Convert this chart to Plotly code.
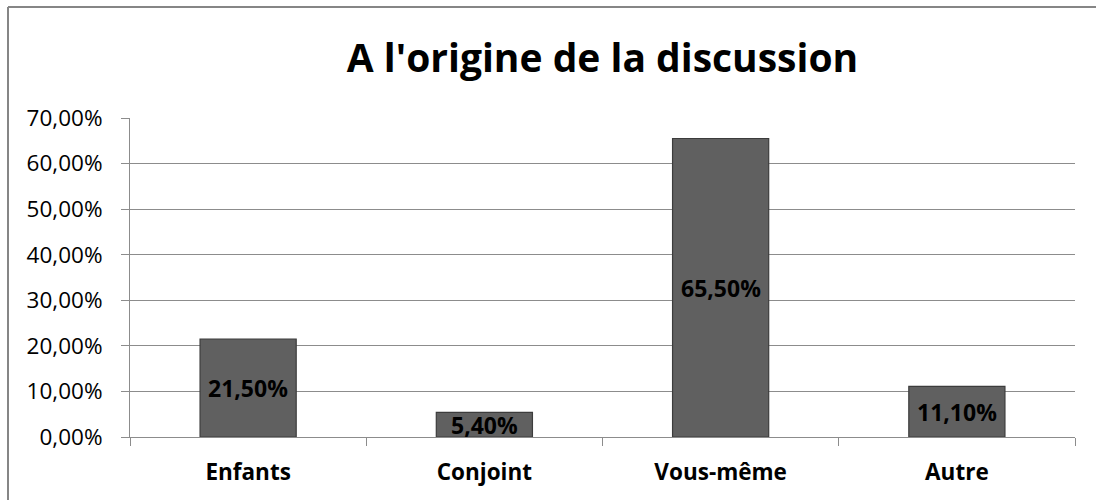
import plotly.graph_objects as go

# Who started the conversation (share of respondents)
categories = ["Enfants", "Conjoint", "Vous-même", "Autre"]
shares = [0.215, 0.054, 0.655, 0.111]
y_ticks = [0.0, 0.1, 0.2, 0.3, 0.4, 0.5, 0.6, 0.7]

FONT = "Open Sans"
GRID = "#8c8c8c"
FRAME = "#868686"


def fr_pct(v):
    return f"{v * 100:.2f}".replace(".", ",") + "%"


fig = go.Figure()
fig.add_trace(go.Bar(
    x=categories,
    y=shares,
    marker=dict(color="#606060", line=dict(color="#3c3c3c", width=1.2)),
    hoverinfo="skip",
))

# value labels centred in each bar
for cat, val in zip(categories, shares):
    fig.add_annotation(
        x=cat, y=val / 2, text=fr_pct(val), showarrow=False,
        font=dict(family=FONT, size=23, color="#000000", weight="bold"),
        xref="x", yref="y",
    )

# chart frame: left and top edges
fx0 = (8 - 130) / 945
fy1 = (437 - 7) / 319
fig.add_shape(type="line", xref="paper", yref="paper",
              x0=fx0, x1=fx0, y0=-0.3, y1=fy1,
              line=dict(color=FRAME, width=2), layer="below")
fig.add_shape(type="line", xref="paper", yref="paper",
              x0=fx0, x1=1.2, y0=fy1, y1=fy1,
              line=dict(color=FRAME, width=2), layer="below")

fig.update_layout(
    width=1096, height=500,
    margin=dict(l=130, r=21, t=118, b=63),
    paper_bgcolor="white", plot_bgcolor="white",
    separators=", ",
    bargap=0.593,
    showlegend=False,
    title=dict(text="A l'origine de la discussion", x=0.5, xref="paper",
               xanchor="center", y=(500 - 58) / 500, yanchor="middle",
               font=dict(family=FONT, size=39, color="#000000", weight="bold")),
    font=dict(family=FONT, color="#000000"),
)

fig.update_yaxes(
    range=[0, 0.7], tickvals=y_ticks, tickformat=".2%",
    showgrid=True, gridcolor=GRID, gridwidth=1,
    showline=True, linecolor=GRID, linewidth=1,
    ticks="outside", ticklen=8, tickcolor=GRID,
    ticklabelstandoff=14,
    tickfont=dict(family=FONT, size=22.5, color="#000000"),
    zeroline=False,
)
fig.update_xaxes(
    showline=True, linecolor=GRID, linewidth=1,
    ticks="outside", ticklen=8, tickcolor=GRID, tickson="boundaries",
    ticklabelstandoff=15,
    tickfont=dict(family=FONT, size=22.5, color="#000000", weight="bold"),
)

fig.write_html("out.html")
